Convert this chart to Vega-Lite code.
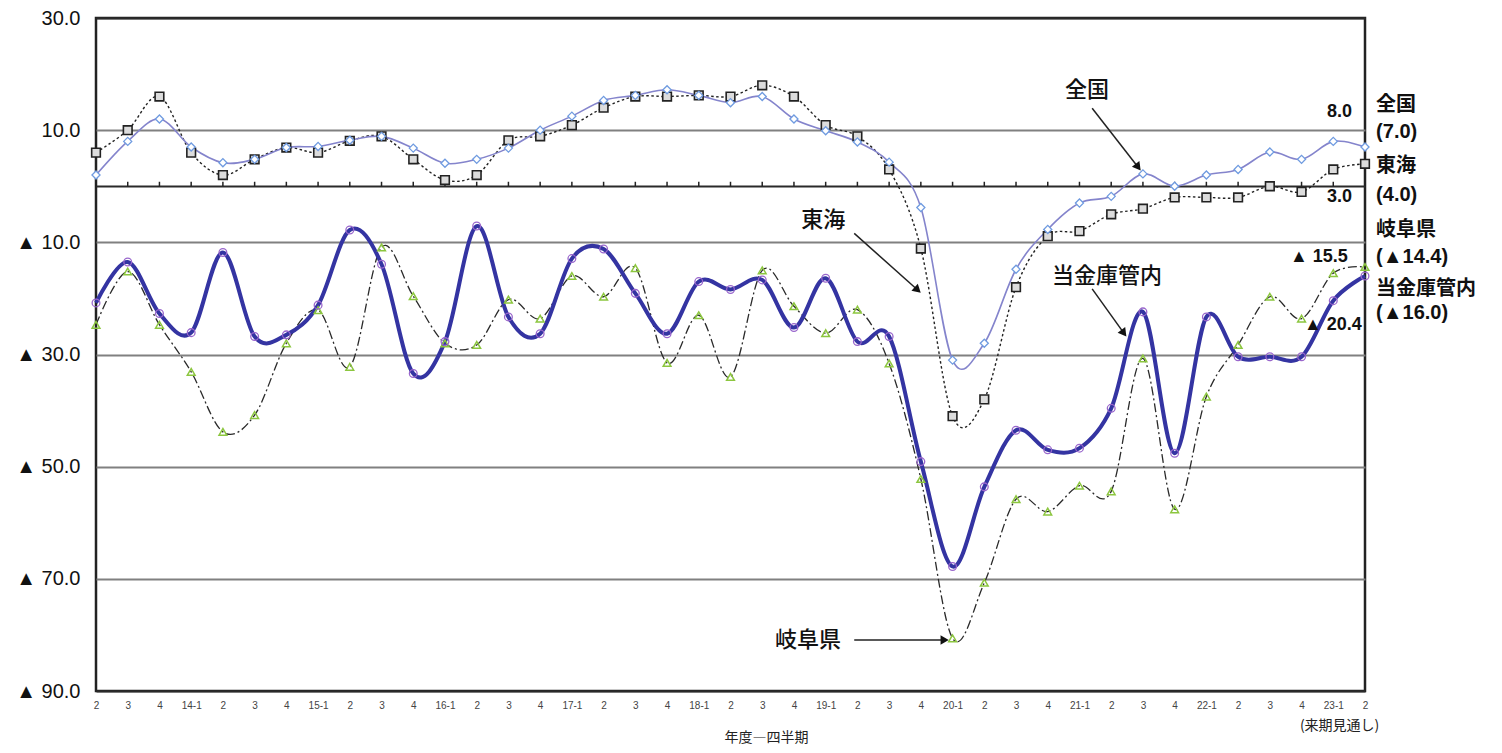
{
  "$schema": "https://vega.github.io/schema/vega-lite/v6.json",
  "width": 1269,
  "height": 673,
  "autosize": {"type": "none"},
  "padding": {"left": 96, "top": 18, "right": 137, "bottom": 62},
  "background": "white",
  "config": {"view": {"stroke": "#222", "strokeWidth": 2.5}, "font": "Liberation Sans"},
  "datasets": {
    "d": [
      {"q": "13-2", "t": 0, "zenkoku": 2.0, "tokai": 6.0, "gifu": -24.7, "kinko": -20.8},
      {"q": "13-3", "t": 1, "zenkoku": 8.0, "tokai": 10.0, "gifu": -15.2, "kinko": -13.5},
      {"q": "13-4", "t": 2, "zenkoku": 12.0, "tokai": 16.0, "gifu": -24.7, "kinko": -22.7},
      {"q": "14-1", "t": 3, "zenkoku": 7.0, "tokai": 6.0, "gifu": -33.1, "kinko": -26.1},
      {"q": "14-2", "t": 4, "zenkoku": 4.2, "tokai": 2.0, "gifu": -43.8, "kinko": -11.8},
      {"q": "14-3", "t": 5, "zenkoku": 4.8, "tokai": 4.8, "gifu": -40.8, "kinko": -26.8},
      {"q": "14-4", "t": 6, "zenkoku": 6.9, "tokai": 6.9, "gifu": -28.0, "kinko": -26.5},
      {"q": "15-1", "t": 7, "zenkoku": 7.1, "tokai": 6.0, "gifu": -22.1, "kinko": -21.2},
      {"q": "15-2", "t": 8, "zenkoku": 8.2, "tokai": 8.1, "gifu": -32.2, "kinko": -7.8},
      {"q": "15-3", "t": 9, "zenkoku": 8.9, "tokai": 8.9, "gifu": -10.9, "kinko": -13.9},
      {"q": "15-4", "t": 10, "zenkoku": 6.8, "tokai": 4.8, "gifu": -19.6, "kinko": -33.4},
      {"q": "16-1", "t": 11, "zenkoku": 4.1, "tokai": 1.1, "gifu": -28.0, "kinko": -27.7},
      {"q": "16-2", "t": 12, "zenkoku": 4.8, "tokai": 2.0, "gifu": -28.3, "kinko": -7.1},
      {"q": "16-3", "t": 13, "zenkoku": 6.8, "tokai": 8.2, "gifu": -20.2, "kinko": -23.3},
      {"q": "16-4", "t": 14, "zenkoku": 10.0, "tokai": 8.9, "gifu": -23.6, "kinko": -26.3},
      {"q": "17-1", "t": 15, "zenkoku": 12.5, "tokai": 10.9, "gifu": -16.0, "kinko": -12.9},
      {"q": "17-2", "t": 16, "zenkoku": 15.3, "tokai": 14.0, "gifu": -19.7, "kinko": -11.2},
      {"q": "17-3", "t": 17, "zenkoku": 16.2, "tokai": 16.0, "gifu": -14.6, "kinko": -19.1},
      {"q": "17-4", "t": 18, "zenkoku": 17.2, "tokai": 16.0, "gifu": -31.5, "kinko": -26.3},
      {"q": "18-1", "t": 19, "zenkoku": 16.2, "tokai": 16.2, "gifu": -23.0, "kinko": -17.0},
      {"q": "18-2", "t": 20, "zenkoku": 14.9, "tokai": 16.0, "gifu": -34.0, "kinko": -18.4},
      {"q": "18-3", "t": 21, "zenkoku": 16.0, "tokai": 18.0, "gifu": -15.0, "kinko": -16.7},
      {"q": "18-4", "t": 22, "zenkoku": 12.0, "tokai": 16.0, "gifu": -21.4, "kinko": -25.2},
      {"q": "19-1", "t": 23, "zenkoku": 9.9, "tokai": 10.9, "gifu": -26.2, "kinko": -16.4},
      {"q": "19-2", "t": 24, "zenkoku": 7.9, "tokai": 8.9, "gifu": -22.0, "kinko": -27.7},
      {"q": "19-3", "t": 25, "zenkoku": 4.3, "tokai": 3.0, "gifu": -31.6, "kinko": -26.8},
      {"q": "19-4", "t": 26, "zenkoku": -3.8, "tokai": -11.1, "gifu": -52.2, "kinko": -49.1},
      {"q": "20-1", "t": 27, "zenkoku": -31.0, "tokai": -41.0, "gifu": -80.6, "kinko": -67.8},
      {"q": "20-2", "t": 28, "zenkoku": -28.0, "tokai": -38.0, "gifu": -70.7, "kinko": -53.6},
      {"q": "20-3", "t": 29, "zenkoku": -14.8, "tokai": -18.0, "gifu": -55.8, "kinko": -43.5},
      {"q": "20-4", "t": 30, "zenkoku": -7.7, "tokai": -8.9, "gifu": -58.0, "kinko": -47.0},
      {"q": "21-1", "t": 31, "zenkoku": -3.0, "tokai": -8.0, "gifu": -53.4, "kinko": -46.7},
      {"q": "21-2", "t": 32, "zenkoku": -1.8, "tokai": -5.0, "gifu": -54.4, "kinko": -39.6},
      {"q": "21-3", "t": 33, "zenkoku": 2.2, "tokai": -4.0, "gifu": -30.7, "kinko": -22.4},
      {"q": "21-4", "t": 34, "zenkoku": 0.0, "tokai": -2.0, "gifu": -57.6, "kinko": -47.6},
      {"q": "22-1", "t": 35, "zenkoku": 2.0, "tokai": -2.0, "gifu": -37.5, "kinko": -23.3},
      {"q": "22-2", "t": 36, "zenkoku": 3.0, "tokai": -2.0, "gifu": -28.3, "kinko": -30.4},
      {"q": "22-3", "t": 37, "zenkoku": 6.1, "tokai": 0.0, "gifu": -19.7, "kinko": -30.4},
      {"q": "22-4", "t": 38, "zenkoku": 4.8, "tokai": -1.0, "gifu": -23.6, "kinko": -30.4},
      {"q": "23-1", "t": 39, "zenkoku": 8.0, "tokai": 3.0, "gifu": -15.5, "kinko": -20.4},
      {"q": "23-2", "t": 40, "zenkoku": 7.0, "tokai": 4.0, "gifu": -14.4, "kinko": -16.0}
    ],
    "notes": [
      {"label": "全国", "t": 31.24, "v": 17.1},
      {"label": "東海", "t": 22.92, "v": -6.0},
      {"label": "当金庫管内", "t": 31.87, "v": -16.0},
      {"label": "岐阜県", "t": 22.44, "v": -80.9}
    ],
    "arrows": [
      {"name": "zen", "t": 31.4, "v": 13.9, "t2": 32.85, "v2": 3.4},
      {"name": "tok", "t": 23.9, "v": -8.4, "t2": 25.9, "v2": -18.5},
      {"name": "kin", "t": 31.4, "v": -18.3, "t2": 32.4, "v2": -26.2},
      {"name": "gifu", "t": 23.9, "v": -80.9, "t2": 26.75, "v2": -80.9}
    ],
    "side": [
      {"label": "全国", "t": 40.35, "v": 14.45},
      {"label": "(7.0)", "t": 40.35, "v": 9.64},
      {"label": "東海", "t": 40.35, "v": 3.58},
      {"label": "(4.0)", "t": 40.35, "v": -1.58},
      {"label": "岐阜県", "t": 40.35, "v": -7.8},
      {"label": "(▲14.4)", "t": 40.35, "v": -12.63},
      {"label": "当金庫管内", "t": 40.35, "v": -18.33},
      {"label": "(▲16.0)", "t": 40.35, "v": -22.6}
    ],
    "vals": [
      {"label": "8.0", "t": 39.59, "v": 13.2},
      {"label": "3.0", "t": 39.59, "v": -1.94},
      {"label": "▲ 15.5", "t": 39.46, "v": -12.63},
      {"label": "▲ 20.4", "t": 39.9, "v": -24.75}
    ],
    "foot": [
      {"label": "(来期見通し)", "t": 39.2, "v": -96.2}
    ]
  },
  "resolve": {"scale": {"x": "independent"}, "axis": {"x": "independent"}},
  "layer": [
    {
      "layer": [
        {
          "data": {"name": "d"},
          "mark": {"type": "line", "interpolate": "cardinal", "stroke": "#2a2a2a", "strokeWidth": 1.3, "strokeDash": [9, 3, 2, 3]},
          "encoding": {
            "x": {
              "field": "q", "type": "ordinal", "title": "年度―四半期",
              "scale": {"type": "point", "padding": 0},
              "axis": {
                "labelExpr": "indexof(datum.value, '-1') > 0 ? datum.value : slice(datum.value, 3)",
                "labelAngle": 0, "labelFontSize": 10, "labelColor": "#444", "labelPadding": 9, "labelOverlap": false,
                "domain": false, "ticks": false, "grid": false,
                "titleFont": "Noto Sans CJK JP", "titleFontSize": 14, "titleFontWeight": "normal", "titleColor": "#222",
                "titlePadding": 20, "titleX": 670
              }
            },
            "y": {
              "field": "gifu", "type": "quantitative", "title": null,
              "scale": {"domain": [-90, 30], "nice": false, "zero": false},
              "axis": {
                "values": [30, 10, 0, -10, -30, -50, -70, -90],
                "labelExpr": "datum.value === 0 ? '' : (datum.value < 0 ? '▲ ' + format(-datum.value, '.1f') : format(datum.value, '.1f'))",
                "labelFont": "Liberation Sans", "labelFontSize": 20, "labelColor": "#111", "labelPadding": 16,
                "ticks": false, "domain": false, "grid": true,
                "gridColor": {"condition": {"test": "datum.value === 0 || datum.value === 30 || datum.value === -90", "value": "#2a2a2a"}, "value": "#808080"},
                "gridWidth": 2
              }
            }
          }
        },
        {
          "data": {"name": "d"},
          "mark": {"type": "line", "interpolate": "cardinal", "stroke": "#3434a2", "strokeWidth": 4},
          "encoding": {
            "x": {"field": "q", "type": "ordinal", "title": "年度―四半期"},
            "y": {"field": "kinko", "type": "quantitative", "title": null}
          }
        },
        {
          "data": {"name": "d"},
          "mark": {"type": "line", "interpolate": "cardinal", "stroke": "#222", "strokeWidth": 1.4, "strokeDash": [2.5, 2.5]},
          "encoding": {
            "x": {"field": "q", "type": "ordinal", "title": "年度―四半期"},
            "y": {"field": "tokai", "type": "quantitative", "title": null}
          }
        },
        {
          "data": {"name": "d"},
          "mark": {"type": "line", "interpolate": "cardinal", "stroke": "#8484cc", "strokeWidth": 1.6},
          "encoding": {
            "x": {"field": "q", "type": "ordinal", "title": "年度―四半期"},
            "y": {"field": "zenkoku", "type": "quantitative", "title": null}
          }
        },
        {
          "data": {"name": "d"},
          "mark": {"type": "rule", "stroke": "#222", "strokeWidth": 1.5},
          "encoding": {
            "x": {"field": "q", "type": "ordinal", "title": "年度―四半期"},
            "y": {"datum": 0, "type": "quantitative"},
            "y2": {"datum": 0.8}
          }
        },
        {
          "data": {"name": "d"},
          "mark": {"type": "point", "shape": "triangle-up", "filled": false, "stroke": "#8cc63f", "strokeWidth": 1.5, "size": 60, "opacity": 1},
          "encoding": {
            "x": {"field": "q", "type": "ordinal", "title": "年度―四半期"},
            "y": {"field": "gifu", "type": "quantitative", "title": null}
          }
        },
        {
          "data": {"name": "d"},
          "mark": {"type": "point", "shape": "circle", "filled": false, "stroke": "#9966cc", "strokeWidth": 1.3, "size": 60, "opacity": 1},
          "encoding": {
            "x": {"field": "q", "type": "ordinal", "title": "年度―四半期"},
            "y": {"field": "kinko", "type": "quantitative", "title": null}
          }
        },
        {
          "data": {"name": "d"},
          "mark": {"type": "point", "shape": "square", "filled": true, "fill": "#dcdcdc", "stroke": "#222", "strokeWidth": 1.6, "size": 75, "opacity": 1},
          "encoding": {
            "x": {"field": "q", "type": "ordinal", "title": "年度―四半期"},
            "y": {"field": "tokai", "type": "quantitative", "title": null}
          }
        },
        {
          "data": {"name": "d"},
          "mark": {"type": "point", "shape": "diamond", "filled": true, "fill": "white", "stroke": "#6f9be0", "strokeWidth": 1.3, "size": 65, "opacity": 1},
          "encoding": {
            "x": {"field": "q", "type": "ordinal", "title": "年度―四半期"},
            "y": {"field": "zenkoku", "type": "quantitative", "title": null}
          }
        }
      ]
    },
    {
      "layer": [
        {
          "data": {"name": "arrows"},
          "mark": {"type": "rule", "stroke": "#222", "strokeWidth": 1.5},
          "encoding": {
            "x": {"field": "t", "type": "quantitative", "axis": null, "scale": {"domain": [0, 40], "nice": false, "zero": false}},
            "y": {"field": "v", "type": "quantitative", "title": null},
            "x2": {"field": "t2"},
            "y2": {"field": "v2"}
          }
        },
        {
          "data": {"name": "arrows"},
          "transform": [{"filter": "datum.name === 'zen'"}],
          "mark": {"type": "point", "shape": "triangle-up", "filled": true, "color": "#111", "size": 90, "angle": 142, "opacity": 1},
          "encoding": {
            "x": {"field": "t2", "type": "quantitative", "axis": null},
            "y": {"field": "v2", "type": "quantitative", "title": null}
          }
        },
        {
          "data": {"name": "arrows"},
          "transform": [{"filter": "datum.name === 'tok'"}],
          "mark": {"type": "point", "shape": "triangle-up", "filled": true, "color": "#111", "size": 90, "angle": 132, "opacity": 1},
          "encoding": {
            "x": {"field": "t2", "type": "quantitative", "axis": null},
            "y": {"field": "v2", "type": "quantitative", "title": null}
          }
        },
        {
          "data": {"name": "arrows"},
          "transform": [{"filter": "datum.name === 'kin'"}],
          "mark": {"type": "point", "shape": "triangle-up", "filled": true, "color": "#111", "size": 90, "angle": 143, "opacity": 1},
          "encoding": {
            "x": {"field": "t2", "type": "quantitative", "axis": null},
            "y": {"field": "v2", "type": "quantitative", "title": null}
          }
        },
        {
          "data": {"name": "arrows"},
          "transform": [{"filter": "datum.name === 'gifu'"}],
          "mark": {"type": "point", "shape": "triangle-up", "filled": true, "color": "#111", "size": 90, "angle": 90, "opacity": 1},
          "encoding": {
            "x": {"field": "t2", "type": "quantitative", "axis": null},
            "y": {"field": "v2", "type": "quantitative", "title": null}
          }
        },
        {
          "data": {"name": "notes"},
          "mark": {"type": "text", "font": "Noto Sans CJK JP", "fontSize": 22, "fontWeight": 500, "color": "#111", "align": "center", "baseline": "middle"},
          "encoding": {
            "x": {"field": "t", "type": "quantitative", "axis": null},
            "y": {"field": "v", "type": "quantitative", "title": null},
            "text": {"field": "label"}
          }
        },
        {
          "data": {"name": "side"},
          "mark": {"type": "text", "font": "Liberation Sans, Noto Sans CJK JP", "fontSize": 20, "fontWeight": "bold", "color": "#111", "align": "left", "baseline": "middle"},
          "encoding": {
            "x": {"field": "t", "type": "quantitative", "axis": null},
            "y": {"field": "v", "type": "quantitative", "title": null},
            "text": {"field": "label"}
          }
        },
        {
          "data": {"name": "vals"},
          "mark": {"type": "text", "font": "Liberation Sans", "fontSize": 18, "fontWeight": "bold", "color": "#111", "align": "right", "baseline": "middle"},
          "encoding": {
            "x": {"field": "t", "type": "quantitative", "axis": null},
            "y": {"field": "v", "type": "quantitative", "title": null},
            "text": {"field": "label"}
          }
        },
        {
          "data": {"name": "foot"},
          "mark": {"type": "text", "font": "Noto Sans CJK JP", "fontSize": 14, "color": "#222", "align": "center", "baseline": "middle"},
          "encoding": {
            "x": {"field": "t", "type": "quantitative", "axis": null},
            "y": {"field": "v", "type": "quantitative", "title": null},
            "text": {"field": "label"}
          }
        }
      ]
    }
  ]
}
